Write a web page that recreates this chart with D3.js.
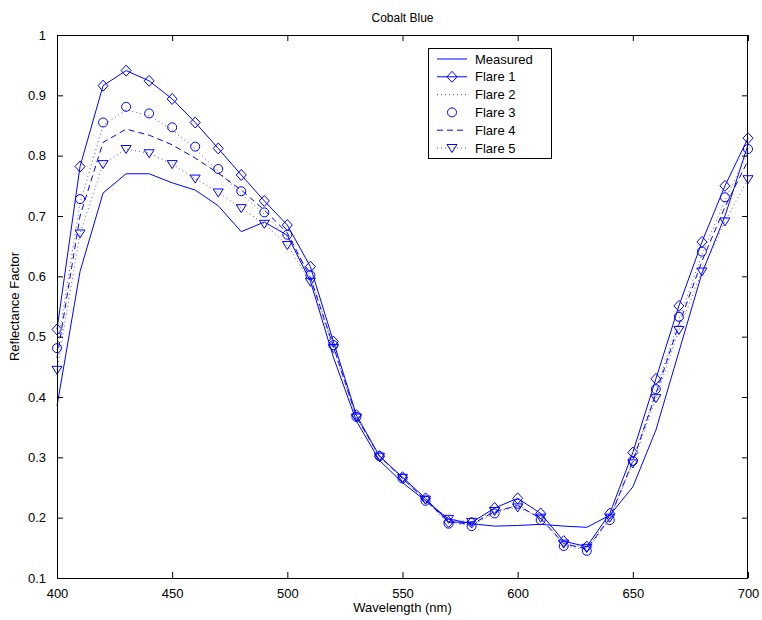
<!DOCTYPE html>
<html>
<head>
<meta charset="utf-8">
<script src="https://cdn.jsdelivr.net/npm/d3@7"></script>
<style>
  html, body { margin: 0; padding: 0; background: #fff; }
  svg { display: block; font-family: "Liberation Sans", Arial, Helvetica, sans-serif; }
</style>
</head>
<body>
<svg id="chart" width="762" height="620"></svg>
<script>
// Wavelength samples (nm)
const wavelengths = [400, 410, 420, 430, 440, 450, 460, 470, 480, 490, 500,
                     510, 520, 530, 540, 550, 560, 570, 580, 590, 600,
                     610, 620, 630, 640, 650, 660, 670, 680, 690, 700];

// Reflectance factor per series
const measured = [0.385, 0.608, 0.738, 0.770, 0.770, 0.755, 0.743, 0.717, 0.674, 0.690, 0.668,
                  0.592, 0.466, 0.360, 0.295, 0.258, 0.228, 0.198, 0.190, 0.186, 0.187,
                  0.189, 0.186, 0.184, 0.204, 0.251, 0.345, 0.475, 0.605, 0.700, 0.818];
const flare1 = [0.512, 0.782, 0.916, 0.941, 0.924, 0.894, 0.855, 0.812, 0.768, 0.725, 0.685,
                0.616, 0.492, 0.370, 0.302, 0.267, 0.232, 0.193, 0.192, 0.216, 0.232,
                0.207, 0.161, 0.152, 0.207, 0.308, 0.430, 0.551, 0.657, 0.750, 0.829];
const flare2 = [0.478, 0.722, 0.850, 0.876, 0.866, 0.843, 0.811, 0.774, 0.737, 0.703, 0.666,
                0.600, 0.485, 0.367, 0.302, 0.265, 0.228, 0.191, 0.187, 0.207, 0.222,
                0.197, 0.154, 0.146, 0.197, 0.294, 0.410, 0.528, 0.636, 0.726, 0.806];
const flare3 = [0.481, 0.728, 0.855, 0.881, 0.870, 0.847, 0.815, 0.778, 0.741, 0.706, 0.669,
                0.602, 0.486, 0.367, 0.302, 0.265, 0.228, 0.190, 0.186, 0.207, 0.223,
                0.196, 0.153, 0.145, 0.196, 0.294, 0.413, 0.533, 0.641, 0.731, 0.811];
const flare4 = [0.465, 0.700, 0.822, 0.844, 0.834, 0.818, 0.796, 0.771, 0.743, 0.710, 0.672,
                0.598, 0.484, 0.367, 0.302, 0.265, 0.229, 0.193, 0.189, 0.210, 0.220,
                0.199, 0.157, 0.148, 0.199, 0.294, 0.405, 0.520, 0.625, 0.715, 0.792];
const flare5 = [0.445, 0.671, 0.786, 0.811, 0.804, 0.786, 0.762, 0.739, 0.713, 0.687, 0.652,
                0.591, 0.481, 0.366, 0.301, 0.266, 0.230, 0.198, 0.193, 0.211, 0.217,
                0.200, 0.157, 0.150, 0.200, 0.290, 0.398, 0.511, 0.608, 0.691, 0.761];

const xTicks = [400, 450, 500, 550, 600, 650, 700];
const yTicks = [0.1, 0.2, 0.3, 0.4, 0.5, 0.6, 0.7, 0.8, 0.9, 1];

const titleText = "Cobalt Blue";
const xLabel = "Wavelength (nm)";
const yLabel = "Reflectance Factor";

const BLUE = "#0000ff";

// line: "solid" | "dotted" | "dashed" | null ; marker: "diamond" | "circle" | "triangle" | null
const series = [
  { name: "Measured", values: measured, line: "solid",  marker: null },
  { name: "Flare 1",  values: flare1,   line: "solid",  marker: "diamond" },
  { name: "Flare 2",  values: flare2,   line: "dotted", marker: null },
  { name: "Flare 3",  values: flare3,   line: null,     marker: "circle" },
  { name: "Flare 4",  values: flare4,   line: "dashed", marker: null },
  { name: "Flare 5",  values: flare5,   line: "dotted", marker: "triangle" }
];

const svg = d3.select("#chart");
const m = { left: 57, right: 14, top: 35, bottom: 42 };
const W = 762, H = 620;
const pw = W - m.left - m.right, ph = H - m.top - m.bottom;

const x = d3.scaleLinear().domain([400, 700]).range([m.left, m.left + pw]);
const y = d3.scaleLinear().domain([0.1, 1]).range([m.top + ph, m.top]);

const dash = { solid: null, dotted: "1,3", dashed: "6,4" };
const dotColor = "#4d4dff";

// Markers drawn as paths centred on the origin
function markerPath(type) {
  if (type === "diamond") return "M0,-5.5L5,0L0,5.5L-5,0Z";
  if (type === "triangle") return "M-5,-3.5L5,-3.5L0,4.5Z";
  if (type === "circle") return d3.arc()({ innerRadius: 0, outerRadius: 4.5, startAngle: 0, endAngle: 2 * Math.PI });
  return null;
}

const plot = svg.append("g");
const lineGen = d3.line().x((d, i) => x(wavelengths[i])).y(d => y(d));

series.forEach(s => {
  if (s.line) {
    plot.append("path")
      .attr("d", lineGen(s.values))
      .attr("fill", "none")
      .attr("stroke", s.line === "dotted" ? dotColor : BLUE)
      .attr("stroke-width", 1)
      .attr("stroke-dasharray", dash[s.line]);
  }
  if (s.marker) {
    plot.selectAll(null)
      .data(s.values)
      .enter().append("path")
      .attr("transform", (d, i) => `translate(${x(wavelengths[i])},${y(d)})`)
      .attr("d", markerPath(s.marker))
      .attr("fill", "none")
      .attr("stroke", BLUE)
      .attr("stroke-width", 1);
  }
});

// Axes box with inward ticks on all four sides
const tickLen = 6;
const axisFont = 13;
const axes = svg.append("g");

const xAxisB = d3.axisBottom(x).tickValues(xTicks).tickSize(-tickLen).tickPadding(tickLen + 5).tickFormat(d3.format("d"));
const xAxisT = d3.axisTop(x).tickValues(xTicks).tickSize(-tickLen).tickFormat("");
const yAxisL = d3.axisLeft(y).tickValues(yTicks).tickSize(-tickLen).tickPadding(tickLen + 5).tickFormat(d => d === 1 ? "1" : d3.format(".1f")(d));
const yAxisR = d3.axisRight(y).tickValues(yTicks).tickSize(-tickLen).tickFormat("");

function styleAxis(g) {
  g.select(".domain").remove();
  g.selectAll(".tick line").attr("stroke", "#000");
  g.selectAll(".tick text").attr("fill", "#000").attr("font-size", axisFont).attr("font-family", "Liberation Sans, Arial, sans-serif");
}
axes.append("g").attr("transform", `translate(0,${m.top + ph})`).call(xAxisB).call(styleAxis);
axes.append("g").attr("transform", `translate(0,${m.top})`).call(xAxisT).call(styleAxis);
axes.append("g").attr("transform", `translate(${m.left},0)`).call(yAxisL).call(styleAxis);
axes.append("g").attr("transform", `translate(${m.left + pw},0)`).call(yAxisR).call(styleAxis);

axes.append("rect")
  .attr("x", m.left + 0.5).attr("y", m.top + 0.5)
  .attr("width", pw - 1).attr("height", ph)
  .attr("fill", "none").attr("stroke", "#000").attr("stroke-width", 1);

// Title and axis labels
svg.append("text").attr("x", m.left + pw / 2).attr("y", 22)
  .attr("text-anchor", "middle").attr("font-size", 12).text(titleText);
svg.append("text").attr("x", m.left + pw / 2).attr("y", 612)
  .attr("text-anchor", "middle").attr("font-size", 13).text(xLabel);
svg.append("text")
  .attr("transform", `translate(19,${m.top + ph / 2}) rotate(-90)`)
  .attr("text-anchor", "middle").attr("font-size", 13).text(yLabel);

// Legend
const lg = svg.append("g").attr("transform", "translate(428,48)");
const rowH = 17.8;
lg.append("rect").attr("x", 0.5).attr("y", 0.5).attr("width", 123).attr("height", 110)
  .attr("fill", "#fff").attr("stroke", "#000").attr("stroke-width", 1);
series.forEach((s, i) => {
  const cy = 11 + i * rowH;
  if (s.line) {
    lg.append("line").attr("x1", 9).attr("x2", 39).attr("y1", cy).attr("y2", cy)
      .attr("stroke", s.line === "dotted" ? dotColor : BLUE).attr("stroke-width", 1)
      .attr("stroke-dasharray", dash[s.line]);
  }
  if (s.marker) {
    lg.append("path").attr("transform", `translate(24,${cy})`).attr("d", markerPath(s.marker))
      .attr("fill", "none").attr("stroke", BLUE).attr("stroke-width", 1);
  }
  lg.append("text").attr("x", 47).attr("y", cy + 4.5).attr("font-size", 13).attr("fill", "#000").text(s.name);
});
</script>
</body>
</html>
